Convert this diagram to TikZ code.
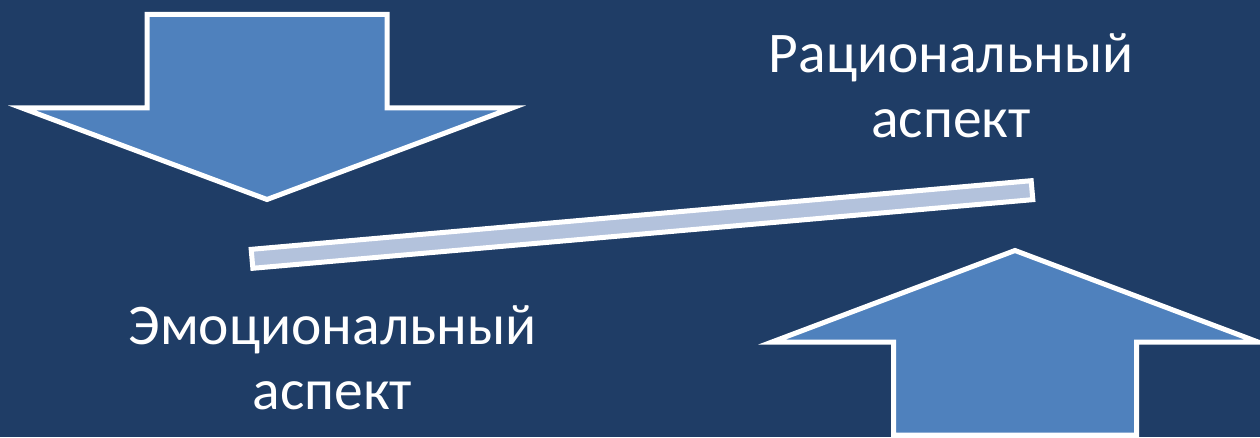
\documentclass[tikz,border=0pt]{standalone}
\usepackage{fontspec}
\setmainfont{Carlito}
\definecolor{bgblue}{HTML}{1F3D66}
\definecolor{arrowfill}{HTML}{4F81BD}
\definecolor{barfill}{HTML}{B3C2DC}
\tikzset{
  arrowshape/.style={draw=white, line width=5pt, fill=arrowfill, line join=miter, miter limit=10},
  barshape/.style={draw=white, line width=5pt, fill=barfill, rectangle, inner sep=0pt, minimum width=783pt, minimum height=19pt},
  label/.style={text=white, align=center, font=\fontsize{57.5}{65}\selectfont, inner sep=0pt}
}
\begin{document}
\begin{tikzpicture}[x=1pt,y=1pt]
\fill[bgblue] (0,0) rectangle (1260,437);
\useasboundingbox (0,0) rectangle (1260,437);
% down arrow (top left)
\draw[arrowshape] (147,422.5) -- (387,422.5) -- (387,329) -- (512,329) -- (267,237.5) -- (22,329) -- (147,329) -- cycle;
% up arrow (bottom right)
\draw[arrowshape] (893.5,2) -- (893.5,95) -- (772,95) -- (1015,186.5) -- (1258,95) -- (1136.5,95) -- (1136.5,2) -- cycle;
% tilted bar
\node[barshape, rotate=5.03] (bar) at (642,212.5) {};
% labels
\node[label] (rational) at (951,351) {Рациональный\\аспект};
\node[label] (emotional) at (332.5,79) {Эмоциональный\\аспект};
\end{tikzpicture}
\end{document}
